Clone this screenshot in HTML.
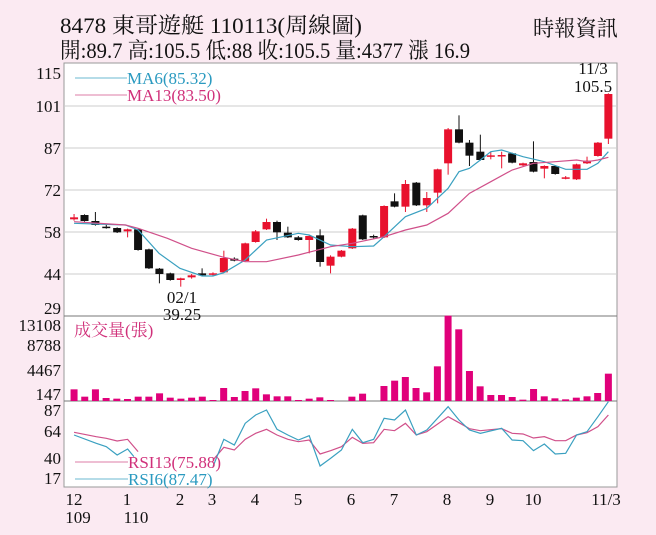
<!DOCTYPE html>
<html><head><meta charset="utf-8"><style>
html,body{margin:0;padding:0;background:#fbeaf2;}
svg{display:block;font-family:"Liberation Serif","Noto Serif CJK SC",serif;}
</style></head><body>
<svg id="s" width="656" height="535" viewBox="0 0 656 535" xmlns="http://www.w3.org/2000/svg">
<rect x="0" y="0" width="656" height="535" fill="#fbeaf2"/>
<rect x="64" y="63" width="553" height="424" fill="#fff" stroke="#999" stroke-width="1"/>
<g stroke="#ccc" stroke-width="1">
<line x1="64" x2="617" y1="106" y2="106"/><line x1="64" x2="617" y1="148" y2="148"/>
<line x1="64" x2="617" y1="190" y2="190"/><line x1="64" x2="617" y1="232" y2="232"/>
<line x1="64" x2="617" y1="274" y2="274"/>
</g>
<line x1="64" x2="617" y1="316" y2="316" stroke="#777"/>
<line x1="64" x2="617" y1="401" y2="401" stroke="#777"/>
<g id="g"></g>
<g font-size="17" fill="#111" text-anchor="end">
<text x="61" y="79">115</text><text x="61" y="112">101</text><text x="61" y="154">87</text>
<text x="61" y="196">72</text><text x="61" y="238">58</text><text x="61" y="280">44</text>
<text x="61" y="314">29</text>
<text x="61" y="331">13108</text><text x="61" y="351">8788</text><text x="61" y="376">4467</text><text x="61" y="400">147</text>
<text x="61" y="416">87</text><text x="61" y="437">64</text><text x="61" y="464">40</text><text x="61" y="484">17</text>
</g>
<g font-size="17" fill="#111" text-anchor="middle">
<text x="182" y="303">02/1</text><text x="182" y="320">39.25</text>
<text x="593" y="74">11/3</text><text x="593" y="92">105.5</text>
<text x="74" y="505">12</text><text x="78" y="523">109</text>
<text x="127" y="505">1</text><text x="136" y="523">110</text>
<text x="180" y="505">2</text><text x="212" y="505">3</text><text x="255" y="505">4</text>
<text x="298" y="505">5</text><text x="351" y="505">6</text><text x="394" y="505">7</text>
<text x="447" y="505">8</text><text x="490" y="505">9</text><text x="533" y="505">10</text>
<text x="606" y="505">11/3</text>
</g>
<line x1="75" x2="127" y1="78" y2="78" stroke="#3aa0c0" stroke-width="0.8"/>
<line x1="75" x2="127" y1="95" y2="95" stroke="#d0508a" stroke-width="0.8"/>
<text x="127" y="84" font-size="17" fill="#2a9ac0">MA6(85.32)</text>
<text x="127" y="101" font-size="17" fill="#d0307a">MA13(83.50)</text>
<line x1="75" x2="128" y1="462" y2="462" stroke="#d0508a" stroke-width="0.8"/>
<line x1="75" x2="128" y1="479" y2="479" stroke="#3aa0c0" stroke-width="0.8"/>
<text x="128" y="468" font-size="17" fill="#d0307a">RSI13(75.88)</text>
<text x="128" y="485" font-size="17" fill="#2a9ac0">RSI6(87.47)</text>
<text x="74" y="336" font-size="17" fill="#d0307a">成交量(張)</text>
<text x="60" y="33" font-size="22" fill="#111" textLength="302" lengthAdjust="spacingAndGlyphs">8478  東哥遊艇 110113(周線圖)</text>
<text x="60" y="58" font-size="22" fill="#111" textLength="410" lengthAdjust="spacingAndGlyphs">開:89.7 高:105.5 低:88 收:105.5 量:4377 漲 16.9</text>
<text x="533" y="36" font-size="22" fill="#111" textLength="85" lengthAdjust="spacingAndGlyphs">時報資訊</text>
</svg>
<script>
var g=document.getElementById('g'),NS='http://www.w3.org/2000/svg';
function el(t,a){var e=document.createElementNS(NS,t);for(var k in a)e.setAttribute(k,a[k]);g.appendChild(e);return e;}
var SX=2.39;
// candles: zx, open, close, high, low (zoom y), red?
var C=[[177,652,658,642,662,1],[202,645,663,643,665,0],[228,663,675,636,677,0],[254,680,684,672,686,0],[280,684,697,682,699,0],[305,688,694,686,712,1],[330,688,750,686,752,0],[356,748,805,746,807,0],[381,806,822,804,850,0],[407,820,840,818,842,0],[432,835,840,833,860,1],[458,826,832,822,836,1],[483,820,826,805,828,0],[509,820,824,817,828,1],[535,774,817,752,819,1],[560,776,782,772,784,0],[586,730,783,728,785,1],[611,694,726,690,728,1],[637,666,688,656,690,1],[662,666,697,662,720,0],[688,698,712,680,714,0],[713,712,720,708,722,0],[739,708,720,706,760,1],[765,706,786,688,800,0],[790,770,797,766,820,1],[816,752,770,750,772,1],[842,686,745,684,747,1],[867,646,718,644,720,0],[893,708,712,704,716,0],[918,618,712,616,714,1],[943,604,620,580,622,0],[969,552,620,540,636,1],[995,548,616,546,618,0],[1020,594,616,576,636,1],[1046,508,578,506,610,1],[1071,388,490,384,524,1],[1097,388,428,346,430,0],[1122,428,467,420,498,0],[1148,455,480,404,482,0],[1173,466,470,455,478,1],[1199,465,468,455,505,1],[1224,460,488,458,490,0],[1250,490,496,488,498,1],[1275,486,515,424,517,0],[1301,498,506,496,535,1],[1327,498,522,496,524,0],[1352,532,535,528,538,1],[1378,493,538,491,540,1],[1403,482,490,470,492,1],[1429,428,468,426,470,1],[1454,282,416,280,432,1]];
C.forEach(function(c){var x=c[0]/SX,t=Math.min(c[1],c[2])/3,b=Math.max(c[1],c[2])/3,col=c[5]?'#e8112d':'#111';
el('line',{x1:x,x2:x,y1:c[3]/3,y2:c[4]/3,stroke:col,'stroke-width':1});
el('rect',{x:x-4,y:t,width:8,height:Math.max(b-t,1.5),fill:col});});
function pl(pts,col,oy){el('polyline',{points:pts.map(function(p){return (p[0]/SX)+','+(oy+p[1]/3);}).join(' '),fill:'none',stroke:col,'stroke-width':1.2});}
pl([[177,670],[300,675],[330,690],[380,760],[430,805],[483,828],[509,828],[535,818],[586,780],[637,720],[713,700],[739,705],[790,735],[842,740],[893,738],[918,710],[969,650],[1020,625],[1071,565],[1097,515],[1122,505],[1148,480],[1173,455],[1199,450],[1250,470],[1301,485],[1352,508],[1403,508],[1429,490],[1454,455]],'#3aa0c0',0);
pl([[177,665],[300,675],[330,685],[400,715],[458,745],[535,772],[586,785],[637,785],[713,765],[790,740],[842,730],[918,710],[969,690],[1020,675],[1071,640],[1122,580],[1173,545],[1224,510],[1275,490],[1327,485],[1378,480],[1403,485],[1429,480],[1454,472]],'#d0508a',0);
var V=[268,290,268,294,296,297,290,290,280,293,296,293,290,300,264,291,273,265,283,289,289,300,296,292,300,303,290,281,303,258,242,231,264,277,199,47,88,213,259,285,285,291,299,267,289,295,298,293,289,279,221];
V.forEach(function(v,i){if(v>=303)return;var x=(177+i*25.54)/SX;el('rect',{x:x-3.5,y:300+v/3,width:7,height:(303-v)/3,fill:'#e0007a'});});
pl([[177,397],[230,410],[254,415],[280,423],[305,418],[330,455]],'#d0508a',300);
pl([[509,480],[535,442],[560,450],[586,418],[611,400],[637,388],[662,405],[688,418],[713,425],[739,420],[765,462],[790,452],[816,440],[842,412],[867,430],[893,428],[918,388],[943,392],[969,370],[995,405],[1020,395],[1071,350],[1097,368],[1122,386],[1148,392],[1199,386],[1224,400],[1250,402],[1275,414],[1301,410],[1327,422],[1352,422],[1378,405],[1403,398],[1429,380],[1454,345]],'#d0508a',300);
pl([[177,405],[230,430],[254,440],[280,465],[305,447],[320,470]],'#3aa0c0',300);
pl([[509,500],[535,418],[560,435],[586,370],[611,345],[637,330],[662,388],[688,405],[713,420],[739,407],[765,498],[790,475],[816,450],[842,388],[867,428],[893,418],[918,355],[943,360],[969,330],[995,405],[1020,390],[1071,320],[1097,360],[1122,390],[1148,400],[1199,385],[1224,420],[1250,422],[1275,452],[1301,432],[1327,462],[1352,460],[1378,405],[1403,395],[1429,350],[1454,305]],'#3aa0c0',300);
</script>
</body></html>
